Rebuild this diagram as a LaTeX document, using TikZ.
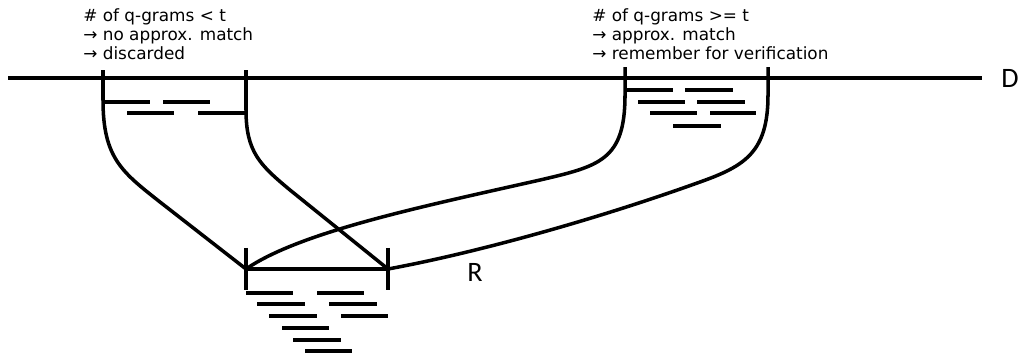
\documentclass[tikz,border=0pt]{standalone}
\usepackage{fontspec}
\setmainfont{DejaVu Sans}
\newfontfamily\labelfont{Carlito}
\begin{document}
\begin{tikzpicture}[x=0.02cm,y=-0.02cm,
    seg/.style={line width=2pt},
    gram/.style={line width=1.9pt},
    note/.style={anchor=north west, inner sep=0pt, align=left, font=\fontsize{9.6}{10.8}\selectfont},
    strlabel/.style={inner sep=0pt, font=\labelfont\fontsize{16}{18}\selectfont}]
\useasboundingbox (0,0) rectangle (1023,356);
% text D
\coordinate (D0) at (8,78);
\coordinate (D1) at (982,78);
\draw[seg] (D0) -- (D1);
\node[strlabel, anchor=west] (Dlab) at (1001,78) {D};
% window ends in D
\coordinate (A1) at (103,70);
\coordinate (A2) at (246,70);
\coordinate (B1) at (625,67);
\coordinate (B2) at (768,67);
% pattern R
\coordinate (R1) at (246,269);
\coordinate (R2) at (388,269);
\draw[seg] (R1) -- (R2);
\draw[seg] ([yshift=12]R1) -- ([yshift=-12]R1);
\draw[seg] ([yshift=12]R2) -- ([yshift=-12]R2);
\node[strlabel] (Rlab) at (475,272) {R};
% mappings
\draw[seg] (A1) -- (103,100) .. controls (103,158) and (122,172) .. (160,202) -- (R1);
\draw[seg] (A2) -- (246,110) .. controls (246,152) and (260,165) .. (290,190) -- (R2);
\draw[seg] (B1) -- (625,95) .. controls (625,160) and (600,166) .. (540,180)
    .. controls (420,207) and (300,232) .. (R1);
\draw[seg] (B2) -- (768,95) .. controls (768,152) and (745,166) .. (700,182)
    .. controls (600,218) and (480,252) .. (R2);
% q-grams
\foreach \xa/\xb/\y in {103/150/102, 163/210/102, 127/174/113, 198/246/113}
    \draw[gram] (\xa,\y) -- (\xb,\y);
\foreach \xa/\xb/\y in {627/673/90, 685/733/90, 638/685/102, 697/745/102,
    650/697/113, 710/756/113, 673/721/126}
    \draw[gram] (\xa,\y) -- (\xb,\y);
\foreach \xa/\xb/\y in {246/293/293, 317/364/293, 257/305/304, 329/377/304,
    269/317/316, 341/388/316, 282/329/328, 293/341/340, 305/352/351}
    \draw[gram] (\xa,\y) -- (\xb,\y);
% notes
\node[note] (nolab) at (83,8) {\# of q-grams < t\\→ no approx. match\\→ discarded};
\node[note] (yeslab) at (592,8) {\# of q-grams >= t\\→ approx. match\\→ remember for verification};
\end{tikzpicture}
\end{document}
